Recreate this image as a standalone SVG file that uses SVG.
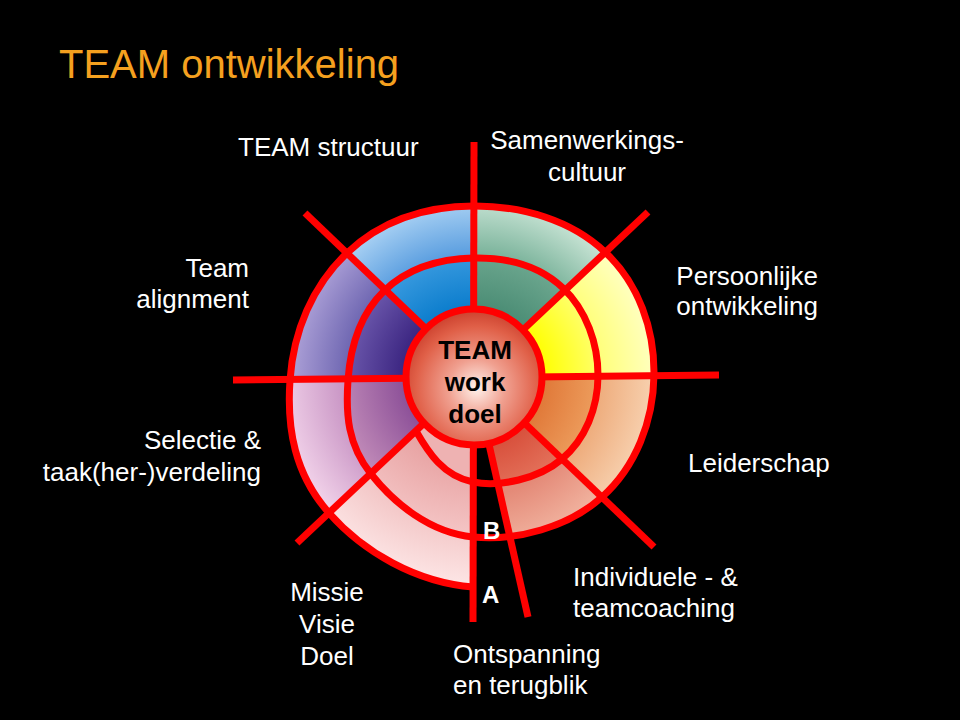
<svg xmlns="http://www.w3.org/2000/svg" width="960" height="720" viewBox="0 0 960 720">
<defs>
<style>
.lbl{font-family:"Liberation Sans",Arial,sans-serif;font-size:26px;fill:#ffffff}
.ctr{font-family:"Liberation Sans",Arial,sans-serif;font-size:26px;font-weight:bold;fill:#000000;text-anchor:middle}
.ab{font-family:"Liberation Sans",Arial,sans-serif;font-size:24px;font-weight:bold;fill:#ffffff}
.red{stroke:#ff0000;stroke-width:7;fill:none}
</style>
<radialGradient id="gTLi" gradientUnits="userSpaceOnUse" cx="474" cy="378" r="215"><stop offset="0.32" stop-color="#0a7ccc"/><stop offset="0.6" stop-color="#3c9ce0"/></radialGradient>
<radialGradient id="gTLo" gradientUnits="userSpaceOnUse" cx="474" cy="378" r="215"><stop offset="0.58" stop-color="#5c9fe0"/><stop offset="0.86" stop-color="#b4d8f6"/></radialGradient>
<radialGradient id="gTRi" gradientUnits="userSpaceOnUse" cx="474" cy="378" r="215"><stop offset="0.32" stop-color="#4a8c74"/><stop offset="0.6" stop-color="#6ea890"/></radialGradient>
<radialGradient id="gTRo" gradientUnits="userSpaceOnUse" cx="474" cy="378" r="215"><stop offset="0.58" stop-color="#7cb49c"/><stop offset="0.86" stop-color="#cfe8da"/></radialGradient>
<radialGradient id="gRUi" gradientUnits="userSpaceOnUse" cx="474" cy="378" r="215"><stop offset="0.32" stop-color="#ffff00"/><stop offset="0.6" stop-color="#ffff70"/></radialGradient>
<radialGradient id="gRUo" gradientUnits="userSpaceOnUse" cx="474" cy="378" r="215"><stop offset="0.58" stop-color="#ffff78"/><stop offset="0.86" stop-color="#ffffc4"/></radialGradient>
<radialGradient id="gRLi" gradientUnits="userSpaceOnUse" cx="474" cy="378" r="215"><stop offset="0.32" stop-color="#e07838"/><stop offset="0.6" stop-color="#eea060"/></radialGradient>
<radialGradient id="gRLo" gradientUnits="userSpaceOnUse" cx="474" cy="378" r="215"><stop offset="0.58" stop-color="#eeac7c"/><stop offset="0.86" stop-color="#f8d4b4"/></radialGradient>
<radialGradient id="gBRi" gradientUnits="userSpaceOnUse" cx="474" cy="378" r="215"><stop offset="0.32" stop-color="#d8503c"/><stop offset="0.6" stop-color="#e67a62"/></radialGradient>
<radialGradient id="gBRo" gradientUnits="userSpaceOnUse" cx="474" cy="378" r="215"><stop offset="0.55" stop-color="#e48a78"/><stop offset="0.86" stop-color="#f4bca8"/></radialGradient>
<radialGradient id="gBLm" gradientUnits="userSpaceOnUse" cx="474" cy="378" r="215"><stop offset="0.4" stop-color="#e8a4a4"/><stop offset="0.72" stop-color="#f4c4c4"/></radialGradient>
<radialGradient id="gBLo" gradientUnits="userSpaceOnUse" cx="474" cy="378" r="215"><stop offset="0.66" stop-color="#f2c4c4"/><stop offset="0.97" stop-color="#fde6e6"/></radialGradient>
<radialGradient id="gLLi" gradientUnits="userSpaceOnUse" cx="474" cy="378" r="215"><stop offset="0.32" stop-color="#8c5098"/><stop offset="0.64" stop-color="#c08ab8"/></radialGradient>
<radialGradient id="gLLo" gradientUnits="userSpaceOnUse" cx="474" cy="378" r="215"><stop offset="0.6" stop-color="#c894c4"/><stop offset="0.9" stop-color="#f0d0e8"/></radialGradient>
<radialGradient id="gLUi" gradientUnits="userSpaceOnUse" cx="474" cy="378" r="215"><stop offset="0.32" stop-color="#3a2480"/><stop offset="0.6" stop-color="#6c58ac"/></radialGradient>
<radialGradient id="gLUo" gradientUnits="userSpaceOnUse" cx="474" cy="378" r="215"><stop offset="0.58" stop-color="#6c64b0"/><stop offset="0.86" stop-color="#aea2d8"/></radialGradient>
<radialGradient id="gCenter" cx="0.52" cy="0.58" r="0.6"><stop offset="0" stop-color="#fff2ec"/><stop offset="0.35" stop-color="#f0a090"/><stop offset="0.75" stop-color="#e06048"/><stop offset="1" stop-color="#c83a28"/></radialGradient>
</defs>
<rect x="0" y="0" width="960" height="720" fill="#000000"/>
<text x="59" y="78" font-family="Liberation Sans, Arial, sans-serif" font-size="40" fill="#f5a01f">TEAM ontwikkeling</text>
<g id="sectors">
<path fill="url(#gBRi)" d="M474,378 L473,482 C499.3,487.4 538.6,478.9 562,459 Z"/>
<path fill="url(#gRLi)" d="M474,378 L562,459 C585.4,439.1 597.8,408.1 598,376 Z"/>
<path fill="url(#gRUi)" d="M474,378 L598,376 C598.2,343.9 586.3,310.1 563,288 Z"/>
<path fill="url(#gTRi)" d="M474,378 L563,288 C539.8,265.9 507.6,257.4 474,258 Z"/>
<path fill="url(#gTLi)" d="M474,378 L474,258 C440.4,258.6 407.6,268.1 384,291 Z"/>
<path fill="url(#gLUi)" d="M474,378 L384,291 C360.4,313.9 350.4,345.7 348,380 Z"/>
<path fill="url(#gLLi)" d="M474,378 L348,380 C345.6,414.3 347.6,444.6 371,474 Z"/>
<path fill="#eeb2b2" d="M474,378 L416,431 C428,452 443,476 473,482 Z"/>
<path fill="url(#gBLm)" d="M416,431 C428,452 443,476 473,482 L473,537 C429.7,532.7 394.4,503.4 371,474 Z"/>
<path fill="url(#gBRo)" d="M473,482 C499.3,487.4 538.6,478.9 562,459 L602,497 C568.1,527.4 516.3,541.3 473,537 Z"/>
<path fill="url(#gRLo)" d="M562,459 C585.4,439.1 597.8,408.1 598,376 L654,375 C653.4,420.9 635.9,466.6 602,497 Z"/>
<path fill="url(#gRUo)" d="M598,376 C598.2,343.9 586.3,310.1 563,288 L605,252 C638.8,283.7 654.6,329.1 654,375 Z"/>
<path fill="url(#gTRo)" d="M563,288 C539.8,265.9 507.6,257.4 474,258 L474,206 C522.4,205.8 571.3,220.3 605,252 Z"/>
<path fill="url(#gTLo)" d="M474,258 C440.4,258.6 407.6,268.1 384,291 L347,253 C381.5,220.4 425.6,206.2 474,206 Z"/>
<path fill="url(#gLUo)" d="M384,291 C360.4,313.9 350.4,345.7 348,380 L290,380 C293.4,331.3 312.5,285.6 347,253 Z"/>
<path fill="url(#gLLo)" d="M348,380 C345.6,414.3 347.6,444.6 371,474 L329,513 C294.7,474.2 286.6,428.8 290,380 Z"/>
<path fill="url(#gBLo)" d="M371,474 C394.4,503.4 429.7,532.7 473,537 L473,587 C416,582.5 363.3,551.8 329,513 Z"/>
<polygon fill="#000000" points="474,378 473,600 524,600"/>
</g>
<g id="connectors">
<path id="spiral" class="red" d="M416,431 C428,452 443,476 473,482 C499.3,487.4 538.6,478.9 562,459 C585.4,439.1 597.8,408.1 598,376 C598.2,343.9 586.3,310.1 563,288 C539.8,265.9 507.6,257.4 474,258 C440.4,258.6 407.6,268.1 384,291 C360.4,313.9 350.4,345.7 348,380 C345.6,414.3 347.6,444.6 371,474 C394.4,503.4 429.7,532.7 473,537 C516.3,541.3 568.1,527.4 602,497 C635.9,466.6 653.4,420.9 654,375 C654.6,329.1 638.8,283.7 605,252 C571.3,220.3 522.4,205.8 474,206 C425.6,206.2 381.5,220.4 347,253 C312.5,285.6 293.4,331.3 290,380 C286.6,428.8 294.7,474.2 329,513 C363.3,551.8 416,582.5 473,587"/>
<line class="red" x1="474" y1="142" x2="473" y2="622"/>
<line class="red" x1="233" y1="380" x2="719" y2="375"/>
<line class="red" x1="305" y1="213" x2="654" y2="547"/>
<line class="red" x1="648" y1="212" x2="297" y2="543"/>
<line class="red" x1="474" y1="378" x2="528" y2="617"/>
</g>
<g id="center">
<circle cx="474" cy="377" r="68" fill="url(#gCenter)" stroke="#ff0000" stroke-width="7"/>
<text class="ctr" x="475" y="359">TEAM</text>
<text class="ctr" x="475" y="391">work</text>
<text class="ctr" x="475" y="423">doel</text>
</g>
<g id="marker-B"><text class="ab" x="483" y="539">B</text></g>
<g id="marker-A"><text class="ab" x="482" y="603">A</text></g>
<g id="label-structuur"><text class="lbl" x="238" y="156">TEAM structuur</text></g>
<g id="label-samenwerking"><text class="lbl" x="587" y="149" text-anchor="middle">Samenwerkings-</text><text class="lbl" x="587" y="181" text-anchor="middle">cultuur</text></g>
<g id="label-alignment"><text class="lbl" x="249" y="277" text-anchor="end">Team</text><text class="lbl" x="249" y="308" text-anchor="end">alignment</text></g>
<g id="label-persoonlijk"><text class="lbl" x="818" y="285" text-anchor="end">Persoonlijke</text><text class="lbl" x="818" y="315" text-anchor="end">ontwikkeling</text></g>
<g id="label-selectie"><text class="lbl" x="261" y="449" text-anchor="end">Selectie &amp;</text><text class="lbl" x="261" y="481" text-anchor="end">taak(her-)verdeling</text></g>
<g id="label-leiderschap"><text class="lbl" x="688" y="472">Leiderschap</text></g>
<g id="label-coaching"><text class="lbl" x="573" y="586">Individuele - &amp;</text><text class="lbl" x="573" y="617">teamcoaching</text></g>
<g id="label-missie"><text class="lbl" x="327" y="601" text-anchor="middle">Missie</text><text class="lbl" x="327" y="633" text-anchor="middle">Visie</text><text class="lbl" x="327" y="665" text-anchor="middle">Doel</text></g>
<g id="label-ontspanning"><text class="lbl" x="453" y="663">Ontspanning</text><text class="lbl" x="453" y="694">en terugblik</text></g>
</svg>
